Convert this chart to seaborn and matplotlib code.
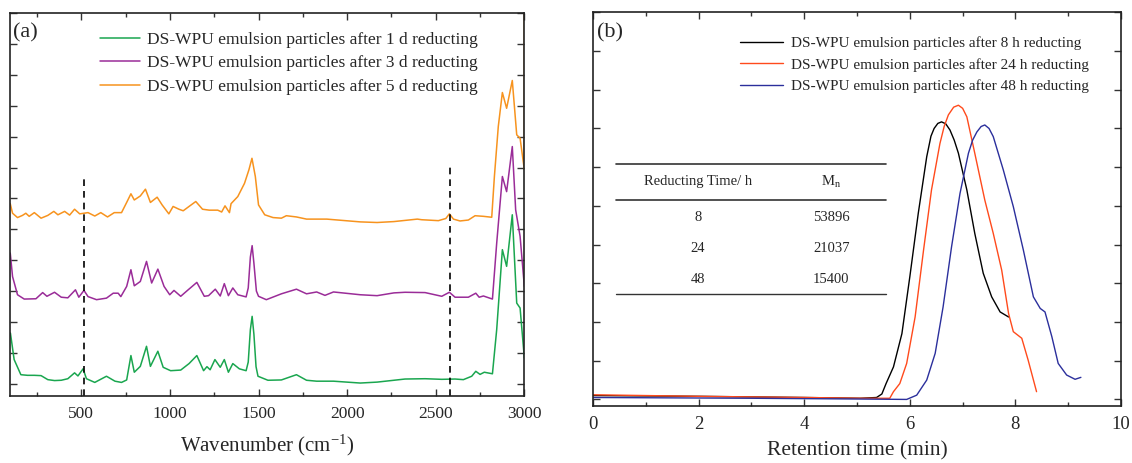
import pandas as pd
import matplotlib
matplotlib.use("Agg")
import matplotlib.pyplot as plt
from matplotlib.ticker import MultipleLocator
import seaborn as sns

# ---- (a) Raman spectra ----
wn_1d = [100, 121, 159, 197, 235, 273, 311, 349, 387, 424, 462, 481, 510, 529, 576, 642, 690,
         727, 756, 780, 799, 833, 868, 890, 932, 962, 1004, 1061, 1108, 1152, 1190, 1209, 1227,
         1254, 1284, 1307, 1330, 1355, 1392, 1430, 1442, 1454, 1464, 1474, 1486, 1497, 1553,
         1629, 1714, 1771, 1828, 1923, 2074, 2169, 2264, 2327, 2440, 2534, 2609, 2656, 2703,
         2726, 2750, 2774, 2820, 2844, 2876, 2900, 2932, 2957, 2976, 3000]
int_1d = [1.64, 0.78, 0.29, 0.27, 0.27, 0.26, 0.13, 0.10, 0.11, 0.16, 0.35, 0.25, 0.48, 0.16,
          0.04, 0.24, 0.08, 0.04, 0.12, 0.91, 0.37, 0.56, 1.21, 0.56, 1.05, 0.53, 0.42, 0.44,
          0.65, 0.91, 0.42, 0.55, 0.45, 0.78, 0.53, 0.78, 0.37, 0.65, 0.48, 0.42, 0.70, 1.75,
          2.18, 1.60, 0.55, 0.24, 0.11, 0.12, 0.29, 0.11, 0.08, 0.08, 0.02, 0.05, 0.11, 0.15,
          0.16, 0.14, 0.15, 0.13, 0.24, 0.40, 0.30, 0.37, 0.32, 1.75, 4.34, 3.80, 5.47, 2.61,
          2.45, 0.83]

wn_3d = [99, 112, 140, 178, 244, 282, 306, 349, 387, 424, 467, 486, 515, 538, 586, 642, 680,
         708, 723, 756, 780, 799, 833, 868, 897, 932, 967, 999, 1023, 1061, 1099, 1152, 1194,
         1218, 1256, 1284, 1307, 1330, 1355, 1383, 1430, 1442, 1454, 1464, 1474, 1488, 1500,
         1544, 1629, 1714, 1771, 1828, 1875, 1923, 2074, 2169, 2264, 2327, 2440, 2534, 2577,
         2609, 2684, 2726, 2745, 2769, 2820, 2844, 2876, 2900, 2932, 2951, 2976, 3000]
int_3d = [4.23, 3.47, 2.88, 2.74, 2.75, 2.95, 2.83, 2.96, 2.80, 2.78, 3.04, 2.80, 3.02, 2.82,
          2.72, 2.77, 2.93, 2.93, 2.82, 3.15, 3.69, 3.17, 3.31, 3.96, 3.26, 3.71, 3.15, 2.88,
          3.02, 2.83, 3.02, 3.28, 2.83, 2.85, 3.06, 2.84, 3.24, 2.85, 3.10, 2.88, 2.81, 3.10,
          4.10, 4.47, 3.90, 3.00, 2.83, 2.72, 2.91, 3.06, 2.91, 2.97, 2.86, 2.97, 2.88, 2.85,
          2.94, 2.96, 2.95, 2.83, 2.96, 2.80, 2.80, 2.93, 2.80, 2.84, 2.74, 4.55, 6.71, 6.22,
          7.68, 5.63, 4.77, 3.15]

wn_5d = [99, 112, 140, 168, 187, 206, 235, 273, 311, 345, 368, 406, 434, 462, 491, 538, 576,
         610, 648, 686, 727, 756, 780, 799, 833, 862, 890, 928, 956, 994, 1018, 1051, 1075,
         1108, 1146, 1184, 1222, 1270, 1292, 1311, 1336, 1345, 1383, 1421, 1446, 1463, 1482,
         1500, 1535, 1582, 1629, 1657, 1714, 1771, 1885, 2074, 2169, 2264, 2396, 2421, 2515,
         2557, 2577, 2600, 2637, 2684, 2722, 2769, 2816, 2831, 2853, 2876, 2900, 2932, 2957,
         2976, 3000, 3000]
int_5d = [5.83, 5.52, 5.38, 5.45, 5.52, 5.42, 5.54, 5.36, 5.45, 5.58, 5.47, 5.58, 5.46, 5.65,
          5.50, 5.54, 5.43, 5.54, 5.40, 5.54, 5.54, 5.87, 6.15, 5.95, 6.08, 6.30, 5.87, 6.04,
          5.79, 5.50, 5.74, 5.65, 5.60, 5.74, 5.90, 5.65, 5.62, 5.62, 5.56, 5.76, 5.54, 5.83,
          6.06, 6.49, 6.93, 7.30, 6.71, 5.79, 5.47, 5.38, 5.36, 5.44, 5.40, 5.33, 5.33, 5.24,
          5.22, 5.25, 5.33, 5.31, 5.28, 5.35, 5.50, 5.33, 5.27, 5.30, 5.44, 5.42, 5.39, 6.71,
          8.33, 9.43, 8.92, 9.82, 8.06, 7.95, 6.93, 12.5]

dash_wn = [515, 2580]
dash_top = [6.7, 7.15]

# ---- (b) GPC traces ----
t_8h = [0, 2, 4, 5.06, 5.37, 5.47, 5.55, 5.69, 5.85, 6.00, 6.16, 6.32, 6.40, 6.46, 6.53, 6.60,
        6.68, 6.76, 6.84, 6.92, 7.08, 7.23, 7.39, 7.55, 7.71, 7.87]
s_8h = [0.10, 0.08, 0.05, 0.03, 0.05, 0.14, 0.41, 0.84, 1.70, 3.17, 4.81, 6.27, 6.80, 7.00,
        7.13, 7.17, 7.12, 6.96, 6.70, 6.36, 5.41, 4.29, 3.26, 2.65, 2.26, 2.13]

t_24h = [0, 2, 4, 5.06, 5.62, 5.69, 5.81, 5.94, 6.10, 6.26, 6.41, 6.57, 6.65, 6.73, 6.83,
         6.92, 7.00, 7.08, 7.23, 7.42, 7.58, 7.74, 7.87, 7.96, 8.12, 8.24, 8.40]
s_24h = [0.12, 0.08, 0.05, 0.03, 0.03, 0.20, 0.41, 0.93, 2.13, 3.86, 5.41, 6.61, 7.05, 7.35,
         7.55, 7.60, 7.52, 7.30, 6.36, 5.15, 4.29, 3.34, 2.22, 1.75, 1.58, 1.02, 0.20]

t_48h = [0, 3, 5.06, 5.94, 6.13, 6.32, 6.48, 6.63, 6.79, 6.95, 7.11, 7.19, 7.27, 7.35, 7.42,
         7.50, 7.58, 7.77, 7.96, 8.15, 8.34, 8.47, 8.56, 8.69, 8.81, 8.97, 9.13, 9.24]
s_48h = [0.05, 0.03, 0.01, 0.00, 0.11, 0.50, 1.19, 2.39, 3.94, 5.32, 6.36, 6.70, 6.91, 7.05,
         7.09, 7.00, 6.79, 5.93, 4.98, 3.86, 2.65, 2.35, 2.26, 1.62, 0.93, 0.63, 0.52, 0.57]

table_time = ["8", "24", "48"]
table_mn = ["53896", "21037", "15400"]

labels_a = ["DS-WPU emulsion particles after 1 d reducting",
            "DS-WPU emulsion particles after 3 d reducting",
            "DS-WPU emulsion particles after 5 d reducting"]
labels_b = ["DS-WPU emulsion particles after 8 h reducting",
            "DS-WPU emulsion particles after 24 h reducting",
            "DS-WPU emulsion particles after 48 h reducting"]
colors_a = ["#1aa64f", "#9a2c98", "#f7931e"]
colors_b = ["#000000", "#ff4a1c", "#2b2f9c"]

sns.set_style("ticks")
plt.rcParams["font.family"] = ["Liberation Serif", "DejaVu Serif"]
plt.rcParams["mathtext.fontset"] = "stix"
plt.rcParams["axes.linewidth"] = 1.2

fig = plt.figure(figsize=(11.32, 4.63), dpi=100)
ax1 = fig.add_axes([0.0092, 0.1447, 0.454, 0.8268])
ax2 = fig.add_axes([0.5239, 0.1231, 0.4664, 0.8503])

# panel (a)
for wn, inten, lab, col in zip([wn_1d, wn_3d, wn_5d], [int_1d, int_3d, int_5d], labels_a, colors_a):
    df = pd.DataFrame({"wn": wn, "I": inten})
    sns.lineplot(data=df, x="wn", y="I", ax=ax1, color=col, lw=1.1,
                 estimator=None, sort=False, label=lab)
ax1.vlines(dash_wn, -0.4, dash_top, colors="black", linestyles=(0, (4, 3)), lw=1.2)
ax1.set_xlim(100, 3000)
ax1.set_ylim(-0.4, 12)
ax1.xaxis.set_major_locator(MultipleLocator(500))
ax1.xaxis.set_minor_locator(MultipleLocator(250))
ax1.set_yticks(range(0, 13))
ax1.set_xlabel("Wavenumber (cm$^{\\mathregular{-1}}$)", fontsize=15, labelpad=8)
ax1.set_ylabel("")
ax1.text(0.006, 0.948, "(a)", transform=ax1.transAxes, fontsize=16, va="center", ha="left")
ax1.legend(loc="upper left", bbox_to_anchor=(0.174, 0.952), frameon=False, fontsize=12.5,
           handlelength=2.3, handletextpad=0.4, labelspacing=0.43, borderpad=0, borderaxespad=0)

# panel (b)
for t, s, lab, col in zip([t_8h, t_24h, t_48h], [s_8h, s_24h, s_48h], labels_b, colors_b):
    df = pd.DataFrame({"t": t, "s": s})
    sns.lineplot(data=df, x="t", y="s", ax=ax2, color=col, lw=1.0,
                 estimator=None, sort=False, label=lab)
ax2.set_xlim(0, 10)
ax2.set_ylim(-0.17, 10)
ax2.xaxis.set_major_locator(MultipleLocator(2))
ax2.xaxis.set_minor_locator(MultipleLocator(1))
ax2.set_yticks(range(0, 11))
ax2.set_xlabel("Retention time (min)", fontsize=15.5, labelpad=6)
ax2.set_ylabel("")
ax2.text(0.008, 0.947, "(b)", transform=ax2.transAxes, fontsize=16, va="center", ha="left")
ax2.legend(loc="upper left", bbox_to_anchor=(0.278, 0.939), frameon=False, fontsize=11,
           handlelength=2.8, handletextpad=0.55, labelspacing=0.51, borderpad=0, borderaxespad=0)

# inset table
x0, x1 = 0.0436, 0.555
for yy, lw in [(0.615, 1.2), (0.523, 1.2), (0.2845, 1.0)]:
    ax2.plot([x0, x1], [yy, yy], transform=ax2.transAxes, color="#333333", lw=lw)
c1, c2 = 0.199, 0.451
ax2.text(c1, 0.569, "Reducting Time/ h", transform=ax2.transAxes, ha="center", va="center", fontsize=10.5)
ax2.text(c2, 0.569, "M$_{\\mathregular{n}}$", transform=ax2.transAxes, ha="center", va="center", fontsize=10.5)
for i, (tt, mn) in enumerate(zip(table_time, table_mn)):
    yy = 0.48 - i * 0.0787
    ax2.text(c1, yy, tt, transform=ax2.transAxes, ha="center", va="center", fontsize=10.5)
    ax2.text(c2, yy, mn, transform=ax2.transAxes, ha="center", va="center", fontsize=10.5)

for ax, lsize in ((ax1, 12.5), (ax2, 13.5)):
    ax.tick_params(which="both", direction="in", top=True, right=True, labelleft=False,
                   labelsize=lsize, width=1.0, color="#333333", pad=7)
    ax.tick_params(which="major", length=5)
    ax.tick_params(which="minor", length=3)
    ax.tick_params(axis="y", which="minor", left=False, right=False)
    for sp in ax.spines.values():
        sp.set_color("#222222")

fig.savefig("out.png", dpi=100)
